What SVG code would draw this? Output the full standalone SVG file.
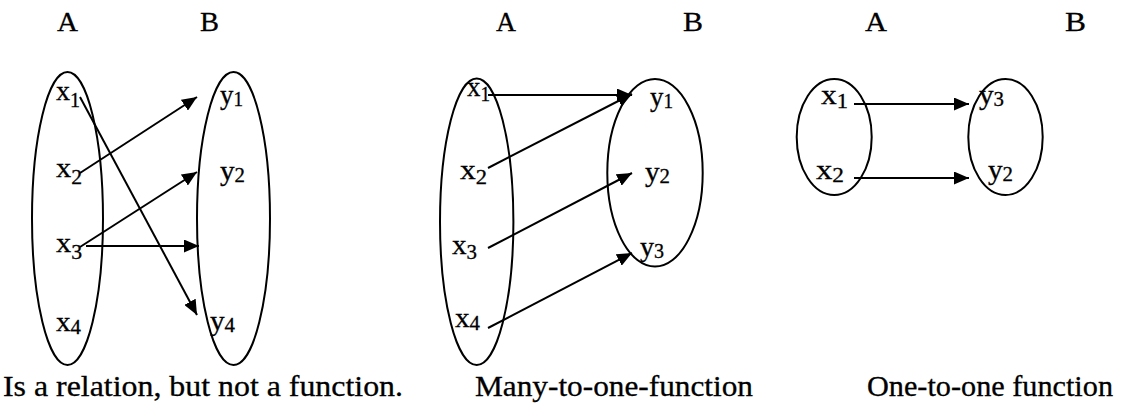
<svg xmlns="http://www.w3.org/2000/svg" width="1128" height="410" viewBox="0 0 1128 410">
<style>
text{font-family:"Liberation Serif","Times New Roman",serif;font-size:28px;fill:#000;stroke:#000;stroke-width:0.3}
.cap{font-size:30px}
.lbl{font-size:28px}
.sub{font-size:20px}
.set{fill:none;stroke:#000;stroke-width:2}
.arr{fill:none;stroke:#000;stroke-width:2;marker-end:url(#ah)}
</style>
<defs>
<marker id="ah" markerUnits="userSpaceOnUse" markerWidth="16" markerHeight="13" refX="15" refY="6.5" orient="auto">
<path d="M0,0 L15,6.5 L0,13 Z" fill="#000"/>
</marker>
</defs>
<rect width="1128" height="410" fill="#fff"/>

<g id="p1-setA">
<text class="lbl" x="57" y="31" textLength="21" lengthAdjust="spacingAndGlyphs">A</text>
<ellipse class="set" cx="67.5" cy="218.5" rx="35.5" ry="146.5"/>
<text x="56" y="100" textLength="24" lengthAdjust="spacingAndGlyphs">x<tspan class="sub" dy="7">1</tspan></text>
<text x="56" y="177" textLength="26" lengthAdjust="spacingAndGlyphs">x<tspan class="sub" dy="7">2</tspan></text>
<text x="56" y="252" textLength="26" lengthAdjust="spacingAndGlyphs">x<tspan class="sub" dy="7">3</tspan></text>
<text x="56" y="331" textLength="25" lengthAdjust="spacingAndGlyphs">x<tspan class="sub" dy="3">4</tspan></text>
</g>
<g id="p1-setB">
<text class="lbl" x="200" y="31" textLength="19" lengthAdjust="spacingAndGlyphs">B</text>
<ellipse class="set" cx="233.5" cy="218.5" rx="36.5" ry="146.5"/>
<text x="220" y="104" textLength="23" lengthAdjust="spacingAndGlyphs">y<tspan class="sub" dy="2">1</tspan></text>
<text x="220" y="180" textLength="25" lengthAdjust="spacingAndGlyphs">y<tspan class="sub" dy="2">2</tspan></text>
<text x="210" y="330" textLength="25" lengthAdjust="spacingAndGlyphs">y<tspan class="sub" dy="2">4</tspan></text>
</g>
<g id="p1-caption">
<text class="cap" x="3" y="396" textLength="400" lengthAdjust="spacingAndGlyphs">Is a relation, but not a function.</text>
</g>

<g id="p2-setA">
<text class="lbl" x="496" y="31" textLength="20" lengthAdjust="spacingAndGlyphs">A</text>
<ellipse class="set" cx="476.7" cy="221.7" rx="36.7" ry="143.3"/>
<text x="467" y="96" textLength="23" lengthAdjust="spacingAndGlyphs">x<tspan class="sub" dy="5">1</tspan></text>
<text x="460" y="179" textLength="27" lengthAdjust="spacingAndGlyphs">x<tspan class="sub" dy="5">2</tspan></text>
<text x="452" y="254" textLength="25" lengthAdjust="spacingAndGlyphs">x<tspan class="sub" dy="5">3</tspan></text>
<text x="455" y="327" textLength="25" lengthAdjust="spacingAndGlyphs">x<tspan class="sub" dy="3">4</tspan></text>
</g>
<g id="p2-setB">
<text class="lbl" x="683" y="31" textLength="20" lengthAdjust="spacingAndGlyphs">B</text>
<ellipse class="set" cx="655" cy="172.8" rx="47.7" ry="93.8"/>
<text x="650" y="106" textLength="23" lengthAdjust="spacingAndGlyphs">y<tspan class="sub" dy="2">1</tspan></text>
<text x="645" y="181" textLength="25" lengthAdjust="spacingAndGlyphs">y<tspan class="sub" dy="2">2</tspan></text>
<text x="640" y="256" textLength="24" lengthAdjust="spacingAndGlyphs">y<tspan class="sub" dy="2">3</tspan></text>
</g>
<g id="p2-caption">
<text class="cap" x="475" y="396" textLength="278" lengthAdjust="spacingAndGlyphs">Many-to-one-function</text>
</g>

<g id="p3-setA">
<text class="lbl" x="865" y="31" textLength="22" lengthAdjust="spacingAndGlyphs">A</text>
<ellipse class="set" cx="834.2" cy="137" rx="37.5" ry="58"/>
<text x="821" y="104" textLength="27" lengthAdjust="spacingAndGlyphs">x<tspan class="sub" dy="4">1</tspan></text>
<text x="816" y="179" textLength="28" lengthAdjust="spacingAndGlyphs">x<tspan class="sub" dy="3">2</tspan></text>
</g>
<g id="p3-setB">
<text class="lbl" x="1065" y="31" textLength="21" lengthAdjust="spacingAndGlyphs">B</text>
<ellipse class="set" cx="1005.5" cy="137" rx="37.2" ry="58"/>
<text x="979" y="104" textLength="25" lengthAdjust="spacingAndGlyphs">y<tspan class="sub" dy="2">3</tspan></text>
<text x="988" y="179" textLength="25" lengthAdjust="spacingAndGlyphs">y<tspan class="sub" dy="2">2</tspan></text>
</g>
<g id="p3-caption">
<text class="cap" x="867" y="396" textLength="246" lengthAdjust="spacingAndGlyphs">One-to-one function</text>
</g>

<g id="connectors">
<line class="arr" x1="80" y1="97" x2="197" y2="315"/>
<line class="arr" x1="80" y1="173" x2="197" y2="97"/>
<line class="arr" x1="80" y1="247" x2="197" y2="172"/>
<line class="arr" x1="86" y1="246" x2="199" y2="246"/>
<line class="arr" x1="488" y1="95" x2="632" y2="95"/>
<line class="arr" x1="488" y1="168" x2="632" y2="94"/>
<line class="arr" x1="488" y1="248" x2="632" y2="173"/>
<line class="arr" x1="488" y1="328" x2="632" y2="253"/>
<line class="arr" x1="854" y1="104" x2="969" y2="104"/>
<line class="arr" x1="854" y1="178" x2="969" y2="178"/>
</g>
</svg>
